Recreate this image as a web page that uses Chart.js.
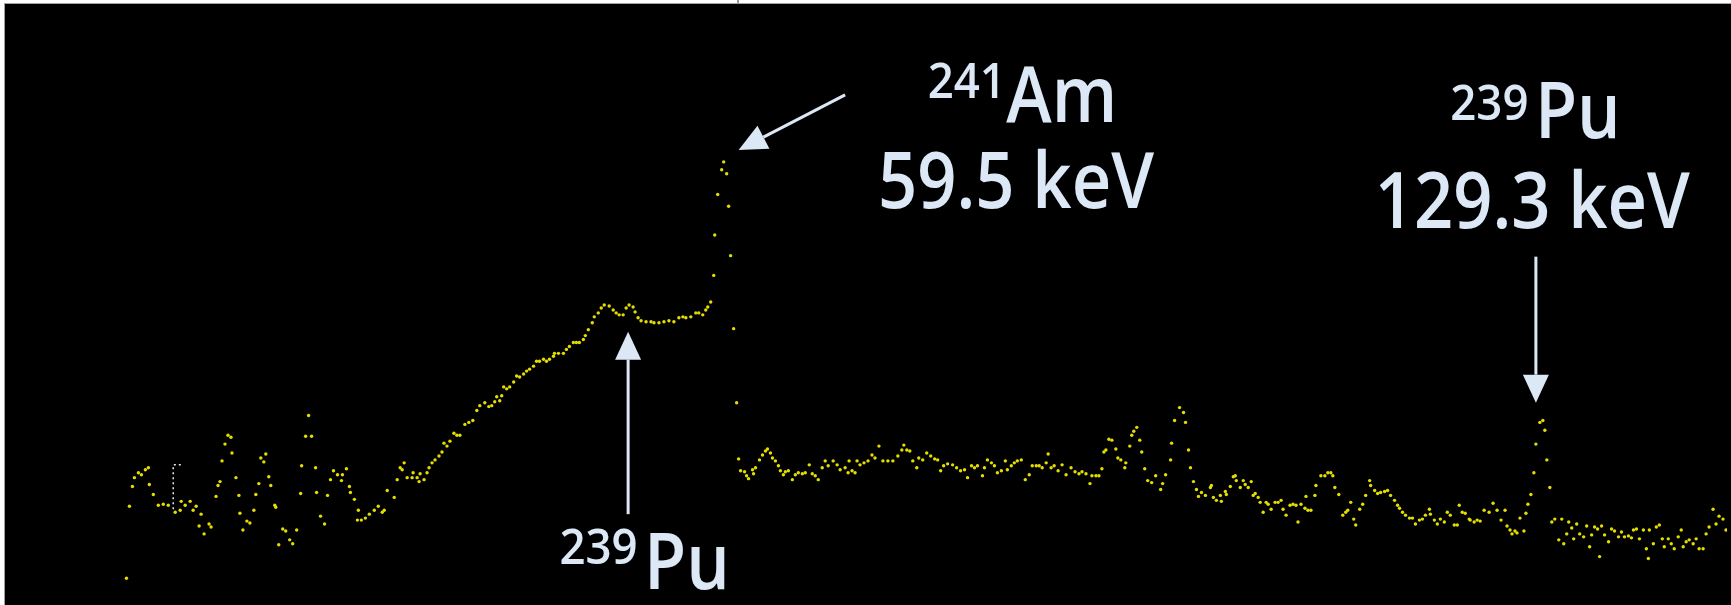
<!DOCTYPE html>
<html>
<head>
<meta charset="utf-8">
<script src="https://cdn.jsdelivr.net/npm/chart.js@4/dist/chart.umd.min.js"></script>
<style>
  html, body { margin: 0; padding: 0; background: #ffffff; width: 1731px; height: 605px; overflow: hidden; }
  #frame { position: absolute; left: 4px; top: 3px; width: 1727px; height: 602px;
           border-top: 1px solid #a0a0a0; border-left: 1px solid #a0a0a0; box-sizing: border-box; }
  #tick { position: absolute; left: 737px; top: 0; width: 2px; height: 3px; background: #9a9a9a; }
  #c { position: absolute; left: 5px; top: 4px; background: #000000; display: block; }
</style>
</head>
<body>
<div id="frame"></div>
<div id="tick"></div>
<canvas id="c" width="1726" height="601"></canvas>
<script>
// ---- Spectrum data (channel, counts) ----
const channels = [
118,121,124,126,130,133,137,140,141,145,150,155,160,167,172,173,177,182,185,188,
191,193,196,201,203,208,210,212,214,217,220,223,224,228,231,232,235,239,242,246,
248,251,253,256,258,261,263,267,268,271,275,278,282,285,289,293,294,298,301,304,
308,309,313,317,320,323,326,330,334,335,339,342,343,347,350,351,354,358,362,367,
371,375,
377,380,387,390,393,395,397,400,405,406,410,412,413,417,420,422,425,428,432,435,
437,440,443,447,450,453,458,462,466,470,473,478,482,485,488,490,493,495,497,500,
503,507,510,513,517,520,523,527,530,533,537,540,543,547,548,552,557,560,563,567,
570,573,577,579,582,586,588,592,595,598,603,607,610,613,617,620,623,627,629,632,
635,640,645,648,653,658,663,668,673,677,680,685,690,693,697,700,702,705,
708,709,712,716,718,721,723,725,728,731,733,
735,739,741,743,747,748,750,754,757,760,762,765,767,770,773,775,778,780,783,787,
790,793,797,800,804,807,810,813,817,820,823,828,832,835,840,843,844,847,850,852,
855,859,863,867,870,874,878,883,888,893,897,899,902,905,908,912,914,918,922,926,
930,933,936,939,943,948,952,956,960,963,967,970,973,978,980,983,987,990,993,997,
1001,1003,1007,1010,1013,1017,1021,1025,1028,1032,1035,1038,1042,1044,1047,1050,1054,1058,1062,1067,
1071,1075,1078,1082,1086,1088,1092,
1095,1098,1100,1102,1105,1108,1112,1114,1117,1121,1122,1126,1128,1130,1133,1136,1138,1141,1144,1148,
1152,1157,1159,1162,1167,1168,1171,1176,1180,1182,1185,1187,1190,1193,1195,1198,1202,1207,1208,1210,
1213,1217,1218,1222,1223,1227,1230,1232,1233,1237,1240,1242,1245,1248,1250,1252,1255,1257,1260,1263,
1265,1268,1272,1275,1278,1280,1283,1287,1290,1293,1295,1298,1302,1303,1305,1308,1312,1313,1318,1322,
1325,1328,1330,1332,1336,1340,1343,1345,1348,1351,1353,1357,1360,1363,1367,1368,1372,1375,1378,1382,
1385,1388,1392,1395,1397,1400,1403,1407,1410,1413,1417,1420,1423,1427,1428,1432,1435,1438,1442,1445,
1448,1452,1455,1457,1460,1463,1467,1468,1472,1475,
1478,1482,1487,1491,1495,1499,1503,1505,1508,1510,1513,1515,1518,1522,1524,1526,1529,
1532,1534,1538,1541,1543,1545,1548,
1550,1553,1557,1560,1562,1565,1567,1570,1572,1575,1578,1582,1585,1588,1590,1593,1596,1598,1600,1603,
1607,1610,1613,1617,1620,1623,1627,1630,1632,1635,1638,1642,1645,1647,1648,1652,1655,1658,1661,1663,
1667,1670,1673,1677,1680,1682,1685,1688,1692,1695,1698,1702,1705,1708,1712,1715,1718,1722,1725
];
const counts = [
23,96,116,125,130,128,133,135,118,108,97,98,97,90,92,101,97,101,92,96,
76,88,68,78,75,106,117,121,142,159,168,166,150,125,107,89,72,81,79,92,
108,119,145,141,149,126,117,97,95,57,73,71,62,58,72,109,137,167,188,167,
135,110,86,78,107,123,132,128,122,128,134,116,110,103,82,92,82,84,88,92,
96,90,
92,112,105,123,135,133,140,125,125,130,125,121,129,123,130,135,140,143,147,151,
160,157,162,170,168,168,179,181,183,193,198,201,197,198,202,207,203,208,217,215,
217,222,228,227,230,233,235,238,243,243,245,243,245,248,251,251,251,255,258,262,
262,262,265,269,275,282,288,292,297,300,299,295,292,290,290,297,300,298,293,287,
284,283,283,282,282,283,284,283,287,288,287,288,292,292,290,295,298,303,
330,371,412,437,445,433,400,350,276,201,144,
132,131,127,124,133,129,135,143,148,152,154,150,145,142,137,132,128,131,132,123,
128,130,129,130,138,129,127,123,135,142,137,142,138,133,135,130,142,132,130,142,
138,140,142,148,145,157,142,142,142,147,153,158,153,152,142,135,145,143,150,147,
144,143,132,137,139,138,135,132,133,125,137,135,137,127,135,143,140,137,130,132,
142,133,137,140,142,143,123,128,137,137,137,135,140,149,135,137,132,138,128,135,
131,129,131,129,119,127,127,
127,134,151,153,164,163,154,145,143,135,140,157,168,172,176,163,151,134,122,120,
127,113,119,128,143,160,183,196,191,181,153,135,121,113,106,110,107,115,117,105,
102,107,101,111,108,116,126,127,122,115,122,118,115,121,107,109,105,100,90,100,
98,93,100,100,102,93,87,97,98,97,80,98,94,106,92,92,107,117,127,127,
130,130,127,115,108,87,90,92,100,83,77,93,98,107,122,117,112,109,110,111,
112,107,102,97,94,90,87,84,84,78,82,83,87,93,88,82,78,83,80,90,
87,77,77,97,90,89,83,82,80,82,
81,92,90,99,92,82,92,76,72,68,71,69,84,71,89,98,108,
130,159,181,183,173,143,115,
80,83,62,83,58,68,80,74,63,78,68,65,76,55,67,75,73,45,76,67,
60,73,71,65,70,65,66,64,72,73,63,72,53,43,72,58,75,77,63,55,
63,58,53,65,72,55,60,62,58,63,53,53,68,75,93,78,86,83,72
];

// Cursor marker (channel, counts)
const markerChannel = [165, 165, 173];
const markerCounts  = [93, 138, 138];

// Peak annotations
const labelTexts = ['241', 'Am', '59.5 keV', '239', 'Pu', '129.3 keV', '239', 'Pu'];
const labelChannels = [923, 1002, 873, 1448, 1533, 1372, 553, 638];
const labelCounts   = [510, 485, 398, 487, 469, 378, 37, 12];
const labelIsSup    = [true, false, false, true, false, false, true, false];

// Arrows: tail -> tip (channel, counts)
const arrowTailCh = [840, 622, 1534];
const arrowTailCt = [513, 88, 349];
const arrowTipCh  = [733, 622, 1534];
const arrowTipCt  = [457, 273, 201];

const points = channels.map((c, i) => ({ x: c, y: counts[i] }));
const marker = markerChannel.map((c, i) => ({ x: c, y: markerCounts[i] }));

const annotationPlugin = {
  id: 'peakAnnotations',
  afterDatasetsDraw(chart) {
    const ctx = chart.ctx;
    const xs = chart.scales.x, ys = chart.scales.y;
    const col = '#dce8f6';
    ctx.save();
    // arrows
    ctx.strokeStyle = col;
    ctx.fillStyle = col;
    ctx.lineWidth = 3;
    for (let i = 0; i < arrowTailCh.length; i++) {
      const x0 = xs.getPixelForValue(arrowTailCh[i]);
      const y0 = ys.getPixelForValue(arrowTailCt[i]);
      const x1 = xs.getPixelForValue(arrowTipCh[i]);
      const y1 = ys.getPixelForValue(arrowTipCt[i]);
      const ang = Math.atan2(y1 - y0, x1 - x0);
      const headLen = 28, halfW = 13;
      const bx = x1 - headLen * Math.cos(ang);
      const by = y1 - headLen * Math.sin(ang);
      ctx.beginPath();
      ctx.moveTo(x0, y0);
      ctx.lineTo(bx, by);
      ctx.stroke();
      ctx.beginPath();
      ctx.moveTo(x1, y1);
      ctx.lineTo(bx + halfW * Math.sin(ang), by - halfW * Math.cos(ang));
      ctx.lineTo(bx - halfW * Math.sin(ang), by + halfW * Math.cos(ang));
      ctx.closePath();
      ctx.fill();
    }
    // labels
    ctx.textAlign = 'left';
    ctx.textBaseline = 'alphabetic';
    for (let i = 0; i < labelTexts.length; i++) {
      const px = xs.getPixelForValue(labelChannels[i]);
      const py = ys.getPixelForValue(labelCounts[i]);
      const size = labelIsSup[i] ? 48 : 78;
      ctx.font = '600 ' + size + 'px "Open Sans", sans-serif';
      ctx.save();
      ctx.translate(px, py);
      ctx.scale(labelIsSup[i] ? 0.95 : 0.88, 1);
      ctx.fillText(labelTexts[i], 0, 0);
      ctx.restore();
    }
    ctx.restore();
  }
};

new Chart(document.getElementById('c'), {
  type: 'scatter',
  data: {
    datasets: [
      {
        label: 'Spectrum',
        data: points,
        pointRadius: 1.7,
        pointBorderWidth: 0,
        backgroundColor: '#e4de00',
        borderColor: '#e4de00',
        showLine: false
      },
      {
        label: 'Cursor',
        data: marker,
        showLine: true,
        pointRadius: 0,
        borderColor: '#e8e8e8',
        borderWidth: 1.5,
        borderDash: [2, 3]
      }
    ]
  },
  options: {
    responsive: false,
    devicePixelRatio: 1,
    animation: false,
    layout: { padding: 0 },
    plugins: { legend: { display: false }, tooltip: { enabled: false } },
    scales: {
      x: { type: 'linear', min: 0, max: 1726, display: false },
      y: { type: 'linear', min: 0, max: 601, display: false }
    }
  },
  plugins: [annotationPlugin]
});
</script>
</body>
</html>
